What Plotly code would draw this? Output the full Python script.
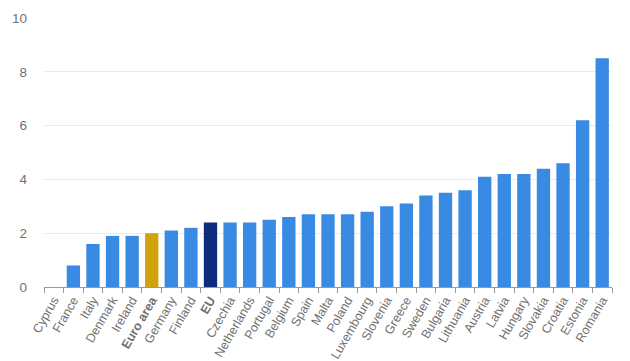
import plotly.graph_objects as go

countries = ["Cyprus", "France", "Italy", "Denmark", "Ireland", "Euro area", "Germany", "Finland",
             "EU", "Czechia", "Netherlands", "Portugal", "Belgium", "Spain", "Malta", "Poland",
             "Luxembourg", "Slovenia", "Greece", "Sweden", "Bulgaria", "Lithuania", "Austria",
             "Latvia", "Hungary", "Slovakia", "Croatia", "Estonia", "Romania"]
values = [0.0, 0.8, 1.6, 1.9, 1.9, 2.0, 2.1, 2.2, 2.4, 2.4, 2.4, 2.5, 2.6, 2.7, 2.7, 2.7,
          2.8, 3.0, 3.1, 3.4, 3.5, 3.6, 4.1, 4.2, 4.2, 4.4, 4.6, 6.2, 8.5]
y_ticks = [0, 2, 4, 6, 8, 10]

BLUE = "#388ae2"
GOLD = "#d2a20c"
NAVY = "#0f2b7c"
colors = [GOLD if c == "Euro area" else NAVY if c == "EU" else BLUE for c in countries]
labels = [f"<b>{c}</b>" if c in ("Euro area", "EU") else c for c in countries]

fig = go.Figure(go.Bar(x=labels, y=values, marker=dict(color=colors, line=dict(width=0))))
fig.update_layout(
    width=630, height=361,
    margin=dict(l=36, r=26, t=10, b=82),
    plot_bgcolor="white", paper_bgcolor="white",
    bargap=0.32, showlegend=False,
    font=dict(family="Arial, Liberation Sans, sans-serif", size=12, color="#707070"),
)
fig.update_xaxes(tickangle=-60, tickson="boundaries", ticks="outside", ticklen=5,
                 tickcolor="#999999", showline=True, linecolor="#999999", linewidth=1,
                 showgrid=False, automargin=False,
                 tickfont=dict(size=12.5, color="#707070"))
fig.update_yaxes(range=[0, 10], tickvals=y_ticks, showgrid=True, gridcolor="#ebebeb",
                 zeroline=False, showline=False, ticks="", ticklabelstandoff=16,
                 automargin=False, tickfont=dict(size=13.5, color="#707070"))
fig.write_html("out.html")
